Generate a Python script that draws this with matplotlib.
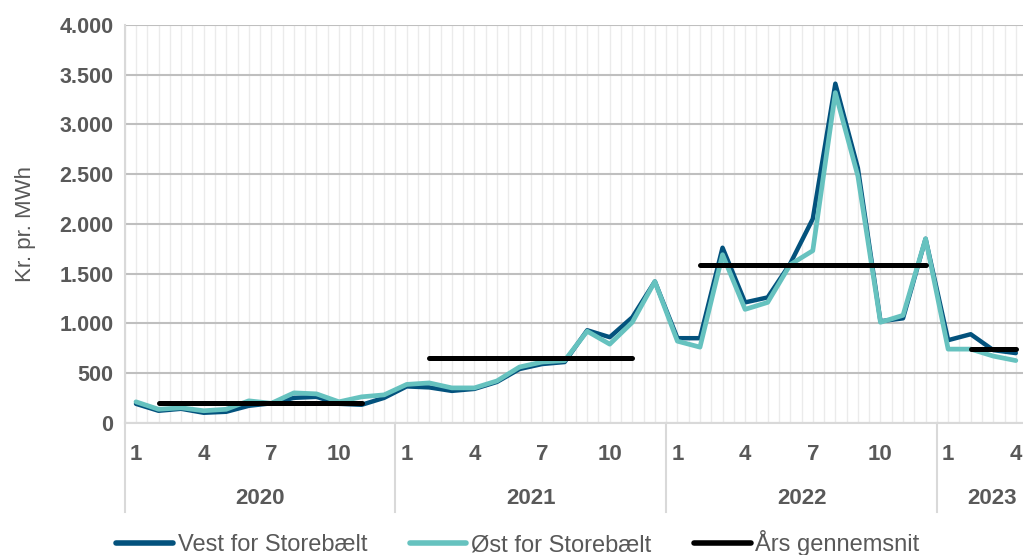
import numpy as np
import matplotlib
matplotlib.use("Agg")
import matplotlib.pyplot as plt
import matplotlib.transforms as mtransforms
from matplotlib.lines import Line2D

plt.rcParams['font.family'] = ['Liberation Sans', 'DejaVu Sans']

# data: monthly prices, Jan 2020 - Apr 2023
years = [2020, 2021, 2022, 2023]
months_per_year = [12, 12, 12, 4]
month_labels = ['1', '', '', '4', '', '', '7', '', '', '10', '', '']

vest = [190, 120, 140, 100, 110, 170, 195, 250, 260, 190, 180, 250,
        365, 355, 320, 340, 410, 540, 590, 610, 930, 860, 1060, 1420,
        850, 850, 1760, 1210, 1260, 1600, 2050, 3410, 2560, 1020, 1050, 1850,
        830, 890, 730, 700]
oest = [210, 135, 150, 120, 135, 220, 195, 300, 290, 210, 260, 280,
        385, 400, 350, 350, 420, 560, 610, 625, 920, 790, 1010, 1420,
        820, 760, 1690, 1140, 1210, 1590, 1730, 3320, 2480, 1010, 1080, 1850,
        740, 740, 670, 625]

# yearly average, shown from month 2 to the month given in avg_last
avg_value = [200, 650, 1590, 740]
avg_first = [2, 2, 2, 2]
avg_last = [11, 11, 12, 4]

c_vest = '#03527d'
c_oest = '#66c2bf'
grey_txt = '#595959'

n = len(vest)
x = np.arange(n)

# build the average series with gaps between years
avg = np.full(n, np.nan)
start = 0
for i, m in enumerate(months_per_year):
    avg[start + avg_first[i] - 1:start + avg_last[i]] = avg_value[i]
    start += m

fig = plt.figure(figsize=(10.23, 5.55), dpi=100)
ax = fig.add_axes([124.7 / 1023, 1 - 422.7 / 555, 902.4 / 1023, 397.7 / 555])

ax.plot(x, vest, color=c_vest, lw=3.2, solid_capstyle='round', solid_joinstyle='round', zorder=3)
ax.plot(x, oest, color=c_oest, lw=3.4, solid_capstyle='round', solid_joinstyle='round', zorder=4)
ax.plot(x, avg, color='black', lw=3.6, solid_capstyle='round', zorder=5)

ax.set_xlim(-0.5, n - 0.5)
ax.set_ylim(0, 4000)

# gridlines
ax.set_yticks(np.arange(0, 4001, 500))
ax.set_yticklabels([f'{v:,.0f}'.replace(',', '.') for v in np.arange(0, 4001, 500)])
ax.grid(axis='y', color='#bfbfbf', lw=1.5, zorder=1)
for xv in np.arange(-0.5, n, 0.5):
    ax.axvline(xv, color='#ebebeb', lw=1.0, zorder=0)
ax.set_axisbelow(True)

ax.tick_params(axis='y', length=0, pad=8, labelsize=15.5, labelcolor=grey_txt)
for t in ax.get_yticklabels():
    t.set_fontweight('bold')
ax.set_xticks([])

for s in ['top', 'right']:
    ax.spines[s].set_visible(False)
ax.spines['left'].set_color('#d9d9d9')
ax.spines['bottom'].set_color('#d9d9d9')
ax.spines['left'].set_linewidth(1.5)
ax.spines['bottom'].set_linewidth(1.5)

# two-level category axis
trans = mtransforms.blended_transform_factory(ax.transData, ax.transAxes)
y_month = -(455 - 422.7) / 397.7
y_year = -(499 - 422.7) / 397.7
y_sep = -(512 - 422.7) / 397.7
start = 0
for yr, m in zip(years, months_per_year):
    for k in range(m):
        if month_labels[k]:
            ax.text(start + k, y_month, month_labels[k], transform=trans, ha='center', va='center',
                    fontsize=16, fontweight='bold', color=grey_txt)
    centre = start + (m - 1) / 2 + (0.45 if m < 12 else 0)
    ax.text(centre, y_year, str(yr), transform=trans, ha='center', va='center',
            fontsize=16, fontweight='bold', color=grey_txt)
    ax.plot([start - 0.5, start - 0.5], [0, y_sep], transform=trans, color='#d9d9d9',
            lw=1.5, clip_on=False)
    start += m

fig.text(25 / 1023, 1 - 224 / 555, 'Kr. pr. MWh', rotation=90, ha='center', va='center',
         fontsize=16, color=grey_txt)

handles = [Line2D([], [], color=c_vest, lw=4, solid_capstyle='round'),
           Line2D([], [], color=c_oest, lw=4, solid_capstyle='round'),
           Line2D([], [], color='black', lw=4, solid_capstyle='round')]
leg = fig.legend(handles, ['Vest for Storebælt', 'Øst for Storebælt', 'Års gennemsnit'],
                 loc='center', bbox_to_anchor=(518 / 1023, 1 - 543 / 555), ncol=3, frameon=False,
                 fontsize=17, handlelength=2.4, handletextpad=0.2, columnspacing=1.8,
                 borderpad=0, borderaxespad=0)
for t in leg.get_texts():
    t.set_color(grey_txt)

fig.savefig('out.png', dpi=100)
